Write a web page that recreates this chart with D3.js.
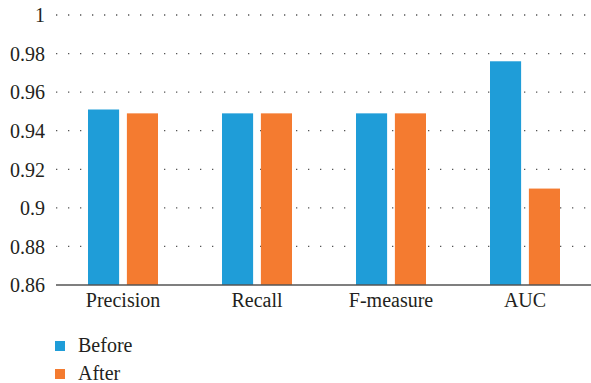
<!DOCTYPE html>
<html>
<head>
<meta charset="utf-8">
<script src="https://cdn.jsdelivr.net/npm/d3@7"></script>
<style>
  html, body { margin: 0; padding: 0; background: #fff; }
  svg { display: block; }
</style>
</head>
<body>
<svg id="chart" width="591" height="383"></svg>
<script>
// Metric names along the x axis
const categories = ["Precision", "Recall", "F-measure", "AUC"];
// Scores for each series
const beforeValues = [0.951, 0.949, 0.949, 0.976];
const afterValues = [0.949, 0.949, 0.949, 0.910];
// Series names and y tick labels
const seriesNames = ["Before", "After"];
const yTicks = [0.86, 0.88, 0.9, 0.92, 0.94, 0.96, 0.98, 1];

const colors = ["#1f9dd8", "#f47b30"];
const fontFamily = "'Liberation Serif', 'DejaVu Serif', serif";
const fontSize = 20;
const textColor = "#231f20";
const svg = d3.select("#chart");

const x = d3.scaleBand().domain(categories).range([56, 592]).paddingInner(0).paddingOuter(0);
const xSub = d3.scaleBand().domain(seriesNames).range([32, 102]).paddingInner(0.2);
const y = d3.scaleLinear().domain([0.86, 1]).range([285, 15]);

// Dotted horizontal gridlines
svg.append("g")
  .selectAll("line")
  .data(yTicks.filter(d => d > 0.86))
  .join("line")
  .attr("x1", 56).attr("x2", 591)
  .attr("y1", d => y(d)).attr("y2", d => y(d))
  .attr("stroke", "#555")
  .attr("stroke-width", 1.3)
  .attr("stroke-dasharray", "1.3 10.7");

// Bars
const rows = categories.map((c, i) => ({ c, vals: [beforeValues[i], afterValues[i]] }));
const groups = svg.append("g").selectAll("g")
  .data(rows).join("g")
  .attr("transform", d => `translate(${x(d.c)},0)`);
groups.selectAll("rect")
  .data(d => d.vals.map((v, j) => ({ v, s: seriesNames[j], j })))
  .join("rect")
  .attr("x", d => xSub(d.s))
  .attr("width", xSub.bandwidth())
  .attr("y", d => y(d.v))
  .attr("height", d => y(0.86) - y(d.v))
  .attr("fill", d => colors[d.j]);

// Baseline
svg.append("line")
  .attr("x1", 56).attr("x2", 591)
  .attr("y1", y(0.86)).attr("y2", y(0.86))
  .attr("stroke", "#555").attr("stroke-width", 1.6);

function styleText(sel) {
  sel.style("font-family", fontFamily)
     .style("font-size", fontSize + "px")
     .style("fill", textColor);
}

// Y axis labels
const yAxis = d3.axisLeft(y).tickValues(yTicks).tickSize(0).tickPadding(0)
  .tickFormat(d => d3.format("")(+d.toFixed(2)));
const yg = svg.append("g").attr("transform", "translate(45,0)").call(yAxis);
yg.attr("font-family", null).attr("font-size", null);
yg.select(".domain").remove();
yg.selectAll("text").call(styleText).attr("dy", "0.34em");

// X axis labels
const xAxis = d3.axisBottom(x).tickSize(0).tickPadding(0);
const xg = svg.append("g").attr("transform", `translate(0,${y(0.86)})`).call(xAxis);
xg.attr("font-family", null).attr("font-size", null);
xg.select(".domain").remove();
xg.selectAll("text").call(styleText).attr("dy", null).attr("y", 22);

// Legend
const legend = svg.append("g").selectAll("g")
  .data(seriesNames).join("g")
  .attr("transform", (d, i) => `translate(55,${341 + i * 28})`);
legend.append("rect")
  .attr("width", 10).attr("height", 10)
  .attr("fill", (d, i) => colors[i]);
legend.append("text")
  .attr("x", 23).attr("y", 11)
  .call(styleText)
  .text(d => d);
</script>
</body>
</html>
